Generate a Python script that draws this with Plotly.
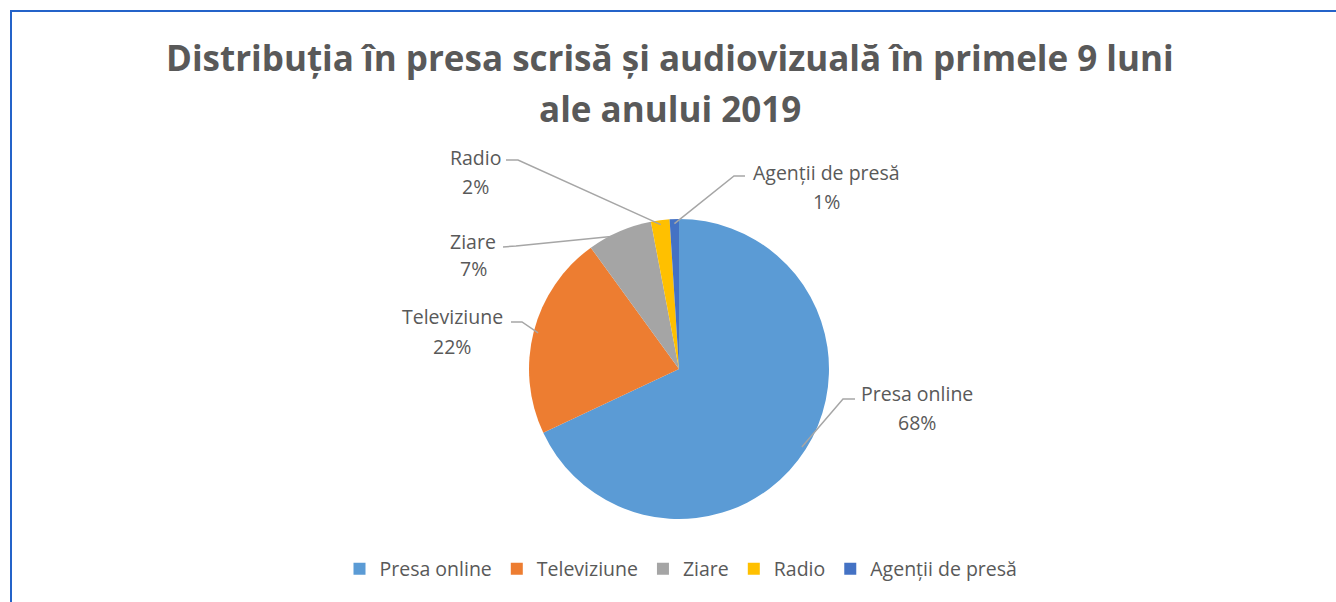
import math
import plotly.graph_objects as go

# ---- data ----
categories = ["Presa online", "Televiziune", "Ziare", "Radio", "Agenții de presă"]
shares = [68, 22, 7, 2, 1]
title_lines = ["Distribuția în presa scrisă și audiovizuală în primele 9 luni", "ale anului 2019"]

# ---- style / layout ----
colors = ["#5B9BD5", "#ED7D31", "#A5A5A5", "#FFC000", "#4472C4"]
W, H = 1336, 602
FONT = "Open Sans"
TXT = "#595959"
cx, cy, R = 679, 369, 150  # pie centre / radius in pixels
LBL_SIZE = 19.5

# label layout: (text centre x, line1 y, line2 y, leader start, elbow)
label_layout = [
    (917, 393, 422, (855, 399), (843, 399)),
    (452, 317, 346, (511, 322), (522, 322)),
    (473, 241, 268, (503, 247), (516, 246)),
    (475, 157, 186, (506, 160), (518, 160)),
    (827, 172, 201, (745, 176), (734, 176)),
]


def px(x):
    return x / W


def py(y):
    return 1 - y / H


fig = go.Figure(go.Pie(
    labels=categories, values=shares, sort=False, direction="clockwise", rotation=0,
    marker=dict(colors=colors, line=dict(width=0)), textinfo="none", hoverinfo="label+percent",
    domain=dict(x=[px(cx - R), px(cx + R)], y=[py(cy + R), py(cy - R)]),
))

annotations = []
shapes = []
total = sum(shares)
cum = 0
for i, (cat, v) in enumerate(zip(categories, shares)):
    mid = (cum + v / 2) / total * 2 * math.pi
    cum += v
    ex = cx + R * 0.97 * math.sin(mid)
    ey = cy - R * 0.97 * math.cos(mid)
    tx, y1, y2, (sx, sy), (bx, by) = label_layout[i]
    pct = round(v / total * 100)
    annotations.append(dict(x=px(tx), y=py(y1), xref="paper", yref="paper", text=cat, showarrow=False,
                            font=dict(family=FONT, size=LBL_SIZE, color=TXT), xanchor="center", yanchor="middle"))
    annotations.append(dict(x=px(tx), y=py(y2), xref="paper", yref="paper", text=f"{pct}%", showarrow=False,
                            font=dict(family=FONT, size=LBL_SIZE, color=TXT), xanchor="center", yanchor="middle"))
    shapes.append(dict(type="path", xref="paper", yref="paper",
                       path=f"M {px(sx)},{py(sy)} L {px(bx)},{py(by)} L {px(ex)},{py(ey)}",
                       line=dict(color="#A6A6A6", width=1.5)))

annotations.append(dict(x=px(670), y=py(57), xref="paper", yref="paper", text=f"<b>{title_lines[0]}</b>",
                        showarrow=False, font=dict(family=FONT, size=35, color=TXT), xanchor="center", yanchor="middle"))
annotations.append(dict(x=px(670), y=py(108), xref="paper", yref="paper", text=f"<b>{title_lines[1]}</b>",
                        showarrow=False, font=dict(family=FONT, size=35, color=TXT), xanchor="center", yanchor="middle"))

# chart border (top and left visible)
shapes.append(dict(type="rect", xref="paper", yref="paper", x0=px(11), x1=px(W + 20), y0=py(H + 20), y1=py(11),
                   line=dict(color="#2463C9", width=2)))

fig.update_layout(
    width=W, height=H, margin=dict(l=0, r=0, t=0, b=0),
    paper_bgcolor="white", plot_bgcolor="white",
    showlegend=True,
    legend=dict(orientation="h", x=px(681), xanchor="center", y=py(569), yanchor="middle",
                font=dict(family=FONT, size=LBL_SIZE, color=TXT), traceorder="normal"),
    annotations=annotations, shapes=shapes,
)

fig.write_html("out.html", config={"displayModeBar": False},
               post_script="document.body.style.margin='0';document.body.style.overflow='hidden';")
